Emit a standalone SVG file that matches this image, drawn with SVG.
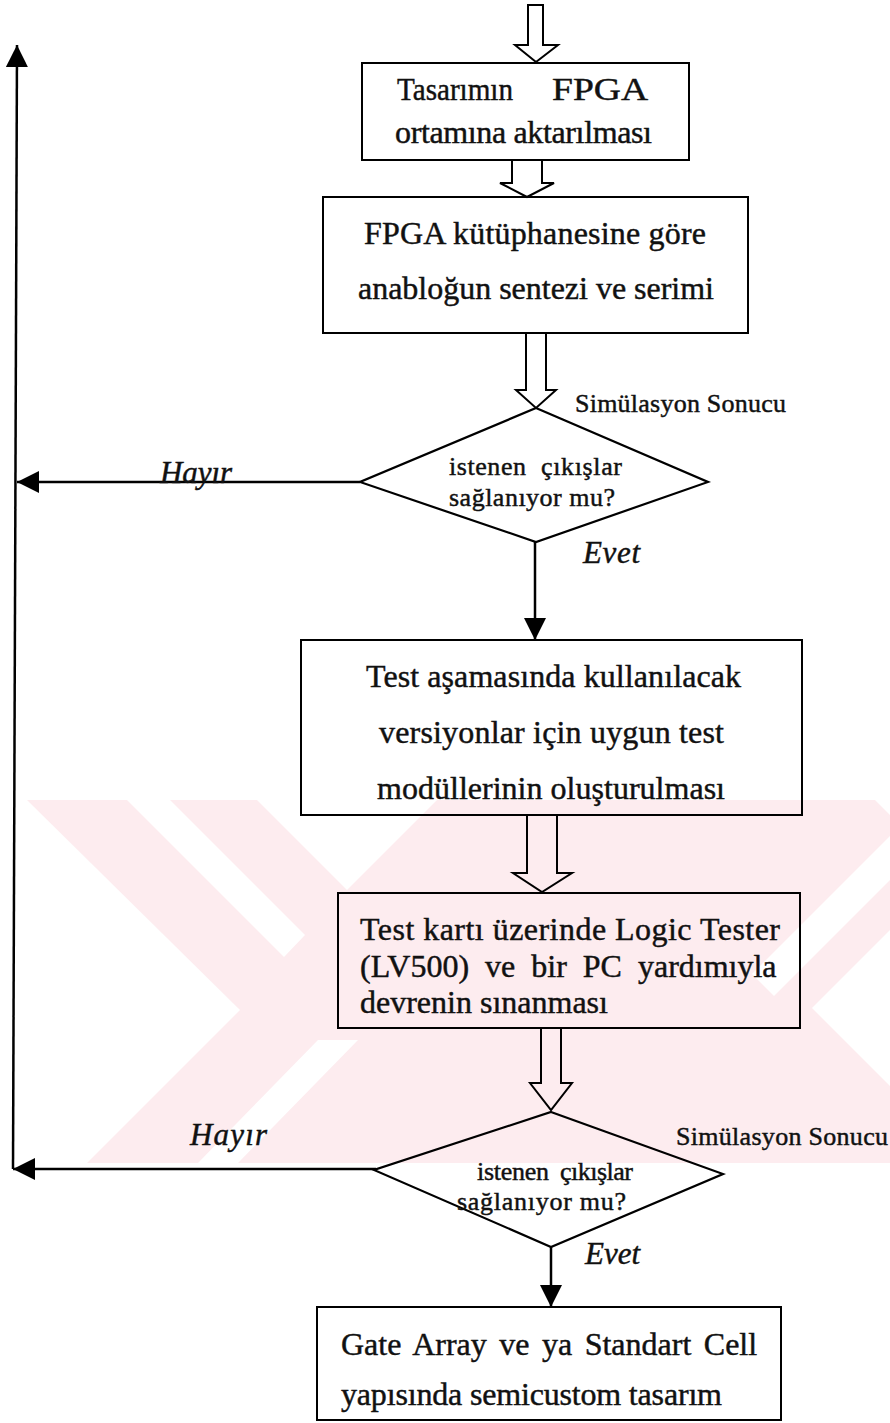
<svg xmlns="http://www.w3.org/2000/svg" width="890" height="1423" viewBox="0 0 890 1423">
  <defs>
    <style>
      .box{fill:none;stroke:#000;stroke-width:2}
      .hollow{fill:none;stroke:#000;stroke-width:2;stroke-linejoin:miter}
      .dec{fill:none;stroke:#000;stroke-width:2.2}
      .line{fill:none;stroke:#000;stroke-width:2.5}
      .t{font-family:"Liberation Serif","Times New Roman",serif;fill:#111;stroke:#111;stroke-width:0.45}
      .big{font-size:32px}
      .mid{font-size:26px}
      .lbl{font-size:31px;font-style:italic}
      .wm{fill:#fdecef}
      .wmcut{fill:#fff}
    </style>
    <marker id="head" markerUnits="userSpaceOnUse" markerWidth="22" markerHeight="22" refX="22" refY="11" orient="auto" viewBox="0 0 22 22">
      <path d="M0,0 L22,11 L0,22 z" fill="#000"/>
    </marker>
  </defs>

  <rect width="890" height="1423" fill="#fff"/>

  <!-- faint background emblem: pink field with white cut-outs -->
  <g id="emblem">
    <rect class="wm" x="0" y="800" width="890" height="363"/>
    <polygon class="wmcut" points="0,800 27,800 240,1010 87,1163 0,1163"/>
    <polygon class="wmcut" points="127,800 170,800 305,935 284,957"/>
    <polygon class="wmcut" points="257,800 437,800 347,890"/>
    <polygon class="wmcut" points="318,1040 358,1040 238,1163 198,1163"/>
    <polygon class="wmcut" points="890,836 890,880 774,996 752,974"/>
    <polygon class="wmcut" points="890,930 812,1008 890,1086"/>
    <polygon class="wmcut" points="875,800 890,800 890,815"/>
  </g>

  <!-- connectors and their labels -->
  <g id="connectors">
    <polygon class="hollow" points="528,5 543,5 543,45 558,45 536,62 515,45 528,45"/>
    <path class="hollow" d="M512,160 V183 H500 L527,197 L554,183 H542 V160"/>
    <path class="hollow" d="M526,333 V390 H516 L536,408 L556,390 H546 V333"/>
    <path class="hollow" d="M527,815 V873 H513 L542,892 L572,873 H557 V815"/>
    <path class="hollow" d="M541,1028 V1083 H530 L551,1110 L572,1083 H561 V1028"/>
    <path class="line" d="M535,542 V640" marker-end="url(#head)"/>
    <path class="line" d="M551,1247 V1307" marker-end="url(#head)"/>
    <path class="line" d="M360,482 H17" marker-end="url(#head)"/>
    <path class="line" d="M376,1169 H13" marker-end="url(#head)"/>
    <path class="line" d="M13,1169 L17,45" marker-end="url(#head)"/>
    <text class="t lbl" x="160" y="483" textLength="72">Hayır</text>
    <text class="t lbl" x="583" y="563" textLength="57">Evet</text>
    <text class="t mid" x="575" y="412" textLength="211">Simülasyon Sonucu</text>
    <text class="t lbl" x="190" y="1145" textLength="77">Hayır</text>
    <text class="t lbl" x="585" y="1264" textLength="55">Evet</text>
    <text class="t mid" x="676" y="1145" textLength="212">Simülasyon Sonucu</text>
  </g>

  <g id="transfer">
    <rect class="box" x="362" y="63" width="327" height="97"/>
    <text class="t big" x="397" y="100" textLength="116" lengthAdjust="spacingAndGlyphs">Tasarımın</text>
    <text class="t big" x="552" y="100" textLength="96" lengthAdjust="spacingAndGlyphs">FPGA</text>
    <text class="t big" x="395" y="143" textLength="257">ortamına aktarılması</text>
  </g>

  <g id="synthesis">
    <rect class="box" x="323" y="197" width="425" height="136"/>
    <text class="t big" x="364" y="244" textLength="342">FPGA kütüphanesine göre</text>
    <text class="t big" x="358" y="299" textLength="356">anabloğun sentezi ve serimi</text>
  </g>

  <g id="check1">
    <polygon class="dec" points="536,408 708,482 536,542 360,482"/>
    <text class="t mid" x="449" y="475" textLength="77">istenen</text>
    <text class="t mid" x="541" y="475" textLength="81">çıkışlar</text>
    <text class="t mid" x="449" y="506" textLength="166">sağlanıyor mu?</text>
  </g>

  <g id="modules">
    <rect class="box" x="301" y="640" width="501" height="175"/>
    <text class="t big" x="366" y="687" textLength="375">Test aşamasında kullanılacak</text>
    <text class="t big" x="379" y="743" textLength="345">versiyonlar için uygun test</text>
    <text class="t big" x="377" y="799" textLength="348">modüllerinin oluşturulması</text>
  </g>

  <g id="testing">
    <rect class="box" x="338" y="893" width="462" height="135"/>
    <text class="t big" x="360" y="940" textLength="420">Test kartı üzerinde Logic Tester</text>
    <text class="t big" x="360" y="977" word-spacing="8">(LV500) ve bir PC yardımıyla</text>
    <text class="t big" x="360" y="1013">devrenin sınanması</text>
  </g>

  <g id="check2">
    <polygon class="dec" points="551,1112 723,1174 551,1247 374,1170"/>
    <text class="t mid" x="477" y="1180" textLength="72">istenen</text>
    <text class="t mid" x="560" y="1180" textLength="73">çıkışlar</text>
    <text class="t mid" x="457" y="1210" textLength="169">sağlanıyor mu?</text>
  </g>

  <g id="semicustom">
    <rect class="box" x="317" y="1307" width="464" height="113"/>
    <text class="t big" x="341" y="1355" word-spacing="4.5">Gate Array ve ya Standart Cell</text>
    <text class="t big" x="341" y="1405" textLength="381">yapısında semicustom tasarım</text>
  </g>
</svg>
